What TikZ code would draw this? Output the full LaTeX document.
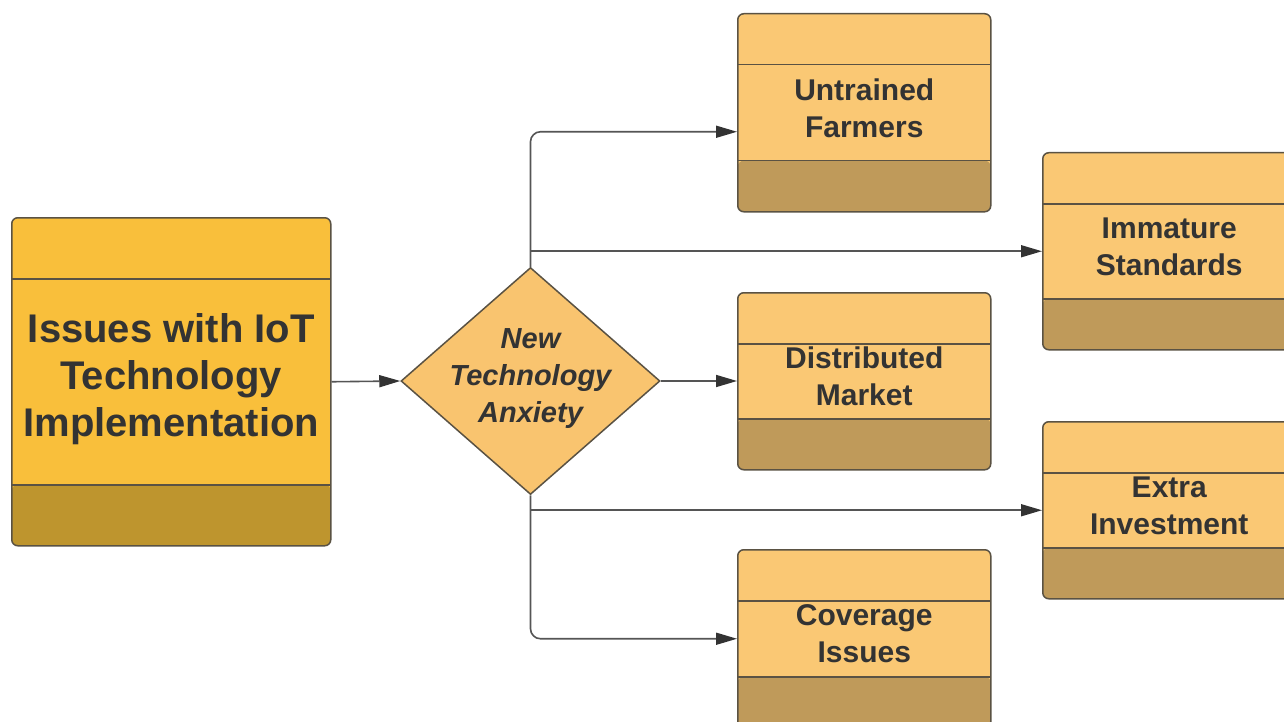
\documentclass[tikz,border=0pt]{standalone}
\usepackage{fontspec}
\setmainfont{Liberation Sans}
\usetikzlibrary{shapes.geometric,arrows.meta,calc}
\definecolor{mainTop}{HTML}{F9BF3B}
\definecolor{mainBot}{HTML}{BE952E}
\definecolor{boxTop}{HTML}{FAC874}
\definecolor{boxBot}{HTML}{BF9A5A}
\definecolor{diaFill}{HTML}{F9C46F}
\definecolor{edgeC}{HTML}{5A5243}
\definecolor{lineC}{HTML}{555555}
\definecolor{txt}{HTML}{333333}
\tikzset{
  bands/.style n args={3}{path picture={
    \fill[#3] ([yshift=#2]path picture bounding box.south west) rectangle (path picture bounding box.south east);
    \draw[edgeC, line width=1.5pt] ([yshift=#2]path picture bounding box.south west) -- ([yshift=#2]path picture bounding box.south east);
    \draw[edgeC, line width=1.5pt] ([yshift=-#1]path picture bounding box.north west) -- ([yshift=-#1]path picture bounding box.north east);
  }},
  card/.style={draw=edgeC, line width=1.5pt, rounded corners=6pt, fill=boxTop,
    minimum width=253pt, inner sep=0pt, align=center, anchor=north west, text=txt,
    text depth=10pt,
    font=\bfseries\fontsize{30}{37}\selectfont, bands={51pt}{51pt}{boxBot}},
  maincard/.style={draw=edgeC, line width=1.5pt, rounded corners=6pt, fill=mainTop,
    minimum width=319pt, minimum height=328pt, inner sep=0pt, align=center, anchor=north west, text=txt,
    text depth=14pt,
    font=\bfseries\fontsize{40}{47}\selectfont, bands={61pt}{61pt}{mainBot}},
  decision/.style={diamond, draw=edgeC, line width=1.5pt, fill=diaFill, inner sep=0pt,
    minimum width=259pt, minimum height=227pt},
  dtext/.style={align=center, text=txt, text depth=10pt, font=\bfseries\itshape\fontsize{29}{37}\selectfont},
  arr/.style={draw=lineC, line width=1.6pt, -{Triangle[length=21pt,width=12pt,color=txt]}},
}
\begin{document}
\begin{tikzpicture}[x=1pt,y=-1pt]
\useasboundingbox (0,0) rectangle (1284,722);
\fill[white] (0,0) rectangle (1284,722);

\node[maincard] (main) at (11,217) {Issues with IoT\\Technology\\Implementation};

\node[decision] (d) at (530.5,381) {};
\node[dtext] (dt) at (d.center) {New\\Technology\\Anxiety};

\node[card, minimum height=198pt] (untr) at (737,13) {Untrained\\Farmers};
\node[card, minimum height=177pt] (dist) at (737,292) {Distributed\\Market};
\node[card, minimum height=178pt] (cov) at (737,549) {Coverage\\Issues};
\node[card, minimum height=197pt] (imm) at (1042,152) {Immature\\Standards};
\node[card, minimum height=177pt] (extra) at (1042,421) {Extra\\Investment};

\draw[arr] (main.east) -- (d.west);
\draw[arr] (d.east) -- (d.east -| dist.west);
\draw[arr, rounded corners=10pt] (d.north) |- ([yshift=-19pt]untr.west);
\draw[arr] (d.north |- imm.west) -- (imm.west);
\draw[arr, rounded corners=10pt] (d.south) |- (cov.west);
\draw[arr] (d.south |- extra.west) -- (extra.west);
\end{tikzpicture}
\end{document}
